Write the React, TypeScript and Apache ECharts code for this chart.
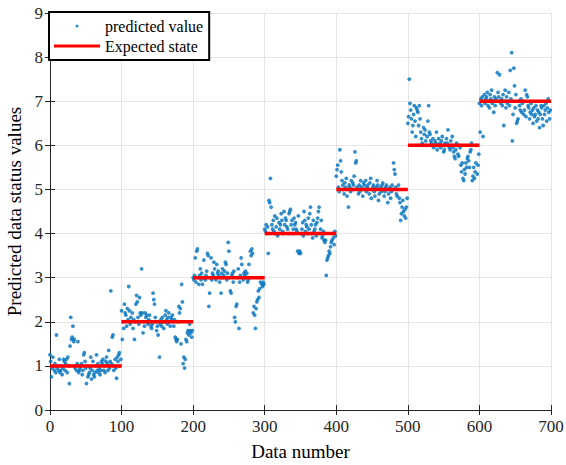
import React, { useEffect, useRef } from "react";
import * as echarts from "echarts";

const seg1 = [
  1.25,1.1,0.75,0.95,1.2,1.0,0.9,1.05,0.85,1.7,
  0.95,1.0,0.9,1.15,0.85,0.9,1.0,0.8,0.95,1.15,
  1.1,0.9,1.05,1.15,0.85,1.2,1.0,0.6,1.45,2.1,
  1.6,1.65,1.9,1.55,1.6,0.95,1.0,0.9,1.05,1.55,
  0.85,0.9,0.95,1.0,1.05,0.8,0.9,1.25,1.3,1.1,
  0.95,0.6,1.0,0.75,0.8,0.85,0.95,1.2,0.7,0.9,
  1.1,0.8,0.75,0.85,1.0,1.25,0.9,1.05,0.85,0.95,
  0.8,0.9,1.1,1.05,1.15,0.9,1.0,0.85,1.1,1.2,
  1.05,0.9,1.35,0.95,1.1,2.7,1.05,1.65,1.7,0.9,
  1.0,1.15,0.95,0.72,1.2,1.1,1.25,1.3,1.0,1.15,
];
const seg2 = [
  2.25,1.6,2.0,1.85,2.4,2.2,2.15,1.9,2.3,2.05,
  2.8,2.25,1.95,2.1,2.0,2.2,1.85,2.05,1.6,2.0,
  2.4,2.6,2.45,2.1,1.95,2.55,2.2,2.15,3.2,2.2,
  1.75,2.0,1.9,2.2,2.1,2.15,2.0,1.95,2.05,2.15,
  2.0,1.9,1.85,1.95,2.65,2.5,2.4,2.1,2.0,1.8,
  1.9,1.7,2.0,1.2,1.95,2.05,1.9,2.1,2.0,1.85,
  2.0,2.15,2.25,2.05,1.95,2.1,2.2,2.0,1.9,2.1,
  2.05,2.15,2.0,1.9,2.05,1.65,1.6,1.55,1.6,2.0,
  2.35,2.2,2.3,1.5,2.85,2.45,1.05,1.2,0.95,1.15,
  1.6,1.55,1.75,1.8,1.7,1.95,1.8,1.75,1.65,1.8,
];
const seg3 = [
  3.0,2.95,3.05,3.45,2.9,3.6,3.65,3.0,2.85,3.05,
  3.2,2.95,3.1,2.85,3.0,3.4,3.0,2.95,3.05,3.15,
  3.55,3.5,2.35,2.65,3.0,3.45,2.95,3.1,3.05,3.35,
  3.2,3.0,2.95,3.3,3.1,3.15,3.05,2.9,3.0,2.65,
  3.1,3.2,3.0,3.05,3.15,3.35,3.3,2.95,3.1,3.8,
  3.6,3.0,2.7,2.65,3.05,3.1,2.9,3.15,2.1,2.0,
  2.35,2.4,3.0,3.2,1.85,2.9,3.05,3.45,3.3,3.0,
  2.95,3.1,3.05,3.15,3.0,3.1,2.9,2.95,3.3,3.0,
  3.6,3.5,3.65,3.55,2.2,2.35,2.15,1.85,2.3,2.45,
  2.5,2.7,2.55,2.75,2.9,3.0,2.85,2.8,2.9,2.85,
];
const seg4 = [
  4.1,4.05,4.2,4.0,4.15,3.55,4.75,4.7,5.25,4.6,
  4.2,4.1,4.3,4.05,4.4,4.0,4.15,4.35,3.95,4.0,
  4.25,4.1,4.2,4.45,4.3,4.05,4.0,4.5,4.2,4.35,
  4.3,4.15,4.1,4.0,4.45,4.5,4.55,4.2,4.3,4.0,
  4.1,4.35,4.2,4.25,4.1,4.05,3.6,4.4,3.55,3.6,
  3.55,4.0,4.1,4.25,3.95,4.5,4.3,4.05,4.2,4.15,
  4.0,4.35,4.1,4.45,4.6,4.2,4.0,3.9,4.3,4.05,
  4.1,4.2,3.95,4.25,4.35,4.5,4.6,4.0,4.1,4.3,
  3.9,3.95,4.05,3.85,3.8,3.85,3.05,3.4,3.45,3.5,
  3.6,3.55,3.7,3.8,3.85,4.0,3.9,3.75,4.05,3.95,
];
const seg5 = [
  5.3,5.45,5.55,5.05,4.95,5.9,5.65,5.4,5.2,5.1,
  5.0,4.9,5.15,5.05,5.25,4.85,5.0,4.6,5.1,5.05,
  4.95,5.2,5.0,5.15,5.1,5.3,5.85,5.6,5.65,5.05,
  5.0,4.9,5.1,4.95,5.2,5.05,5.0,4.85,5.15,5.1,
  5.0,5.2,4.95,5.05,5.1,5.0,4.9,5.15,5.25,4.8,
  5.0,5.05,5.1,4.95,4.85,5.0,5.05,5.2,5.1,4.75,
  4.9,5.0,5.05,4.95,5.1,5.15,5.0,4.85,4.95,5.05,
  5.1,5.0,4.7,4.9,5.0,5.05,4.8,4.95,5.1,5.0,
  5.6,5.45,5.35,5.05,4.9,4.85,5.0,5.1,4.8,4.7,
  4.3,4.45,4.6,4.75,4.5,4.4,4.55,4.35,4.6,4.8,
];
const seg6 = [
  6.5,6.65,7.5,6.95,6.8,6.6,6.3,6.45,6.7,6.9,
  6.55,6.2,6.85,6.8,6.75,6.45,6.9,6.6,6.3,6.15,
  6.05,6.0,6.4,6.25,6.35,6.1,6.0,6.2,6.55,6.9,
  6.3,6.25,6.1,6.05,6.0,6.15,5.95,6.0,6.1,6.05,
  6.3,5.9,6.0,6.15,6.0,6.05,5.95,6.1,6.2,6.0,
  5.85,5.9,6.05,6.0,6.15,6.05,6.35,6.0,5.95,5.9,
  6.1,6.0,6.2,5.95,5.85,5.75,5.7,5.9,6.05,6.0,
  5.8,5.75,6.0,5.95,5.55,5.4,5.6,5.25,5.2,5.45,
  5.35,5.6,5.5,5.7,5.75,5.65,5.5,5.85,5.9,6.05,
  5.2,5.3,5.5,5.25,5.4,5.6,6.0,5.35,5.55,5.8,
];
const seg7 = [
  6.95,6.3,7.05,6.9,7.1,6.2,7.0,7.15,6.95,7.05,
  7.1,7.2,6.9,7.0,6.85,7.15,7.05,7.25,6.95,7.0,
  6.75,7.1,6.9,7.05,7.0,7.65,7.2,7.1,7.6,7.0,
  6.95,7.05,6.9,7.15,6.45,7.0,7.25,6.85,7.1,6.95,
  7.0,7.2,6.9,7.7,7.05,8.1,6.1,6.7,7.75,7.35,
  6.85,7.15,6.5,6.55,6.6,7.0,6.9,6.8,7.05,6.75,
  6.95,7.0,6.7,6.8,7.25,6.65,7.15,7.1,6.9,6.85,
  6.6,6.75,6.95,6.7,6.8,6.5,6.85,6.65,6.7,6.9,
  6.55,6.8,6.6,6.75,6.4,6.7,6.9,6.85,6.6,6.45,
  6.9,6.7,6.8,6.95,6.55,6.85,7.05,6.75,6.6,6.8,
];
const segments = [seg1, seg2, seg3, seg4, seg5, seg6, seg7];
const expectedLevels = [1, 2, 3, 4, 5, 6, 7];
const segmentBounds = [0, 100, 200, 300, 400, 500, 600, 700];
const xTicks = [0, 100, 200, 300, 400, 500, 600, 700];
const yTicks = [0, 1, 2, 3, 4, 5, 6, 7, 8, 9];

const FONT = "Liberation Serif";

export default function App() {
  const ref = useRef<HTMLDivElement>(null);
  useEffect(() => {
    if (!ref.current) return;
    const chart = echarts.init(ref.current, undefined, { renderer: "svg" });
    const predicted: number[][] = [];
    segments.forEach((seg, s) => {
      seg.forEach((v, i) => predicted.push([segmentBounds[s] + i, v]));
    });
    const expected: any[] = [];
    expectedLevels.forEach((lv, s) => {
      expected.push([segmentBounds[s], lv]);
      expected.push([segmentBounds[s + 1], lv]);
      expected.push([segmentBounds[s + 1], "-"]);
    });
    const axisLineColor = "#262626";
    chart.setOption({
      animation: false,
      backgroundColor: "#fff",
      textStyle: { fontFamily: FONT },
      grid: {
        left: 50,
        right: 15,
        top: 13,
        bottom: 55,
        containLabel: false,
        outerBoundsMode: "none",
      },
      legend: {
        left: 49,
        top: 12,
        orient: "vertical",
        backgroundColor: "#fff",
        borderColor: "#000",
        borderWidth: 2,
        borderRadius: 0,
        padding: [6, 6, 6, 5],
        itemGap: 4,
        itemWidth: 46,
        itemHeight: 16,
        itemTextGap: 4,
        textStyle: { fontFamily: FONT, fontSize: 16, color: "#000" },
        data: [
          {
            name: "predicted value",
            icon: "path://M0,0M46,16M21.4,8a1.6,1.6 0 1,0 3.2,0a1.6,1.6 0 1,0 -3.2,0z",
            itemStyle: { color: "#0072BD" },
          },
          {
            name: "Expected state",
            icon: "path://M0,0M46,16M0,6.4L46,6.4L46,9.6L0,9.6Z",
            itemStyle: { color: "#ff0000" },
          },
        ],
      },
      xAxis: [
        {
          type: "value",
          min: 0,
          max: 700,
          interval: 100,
          name: "Data number",
          nameLocation: "middle",
          nameGap: 32,
          nameTextStyle: { fontFamily: FONT, fontSize: 19, color: "#000" },
          axisLine: { show: true, lineStyle: { color: axisLineColor, width: 1 } },
          axisTick: { show: true, inside: true, length: 5, lineStyle: { color: axisLineColor } },
          axisLabel: {
            fontFamily: FONT,
            fontSize: 17,
            color: "#262626",
            margin: 8,
            formatter: (v: number) => (xTicks.includes(v) ? String(v) : ""),
          },
          splitLine: { show: true, lineStyle: { color: "#e5e5e5", width: 1 } },
        },
        {
          type: "value",
          position: "top",
          min: 0,
          max: 700,
          interval: 100,
          axisLine: { show: true, lineStyle: { color: axisLineColor, width: 1 } },
          axisTick: { show: true, inside: true, length: 5, lineStyle: { color: axisLineColor } },
          axisLabel: { show: false },
          splitLine: { show: false },
        },
      ],
      yAxis: [
        {
          type: "value",
          min: 0,
          max: 9,
          interval: 1,
          name: "Predicted data status values",
          nameLocation: "middle",
          nameGap: 22,
          nameTextStyle: { fontFamily: FONT, fontSize: 19, color: "#000" },
          axisLine: { show: true, lineStyle: { color: axisLineColor, width: 1 } },
          axisTick: { show: true, inside: true, length: 5, lineStyle: { color: axisLineColor } },
          axisLabel: {
            fontFamily: FONT,
            fontSize: 17,
            color: "#262626",
            margin: 7,
            formatter: (v: number) => (yTicks.includes(v) ? String(v) : ""),
          },
          splitLine: { show: true, lineStyle: { color: "#e5e5e5", width: 1 } },
        },
        {
          type: "value",
          position: "right",
          min: 0,
          max: 9,
          interval: 1,
          axisLine: { show: true, lineStyle: { color: axisLineColor, width: 1 } },
          axisTick: { show: true, inside: true, length: 5, lineStyle: { color: axisLineColor } },
          axisLabel: { show: false },
          splitLine: { show: false },
        },
      ],
      series: [
        {
          name: "predicted value",
          type: "scatter",
          data: predicted,
          symbol: "circle",
          symbolSize: 3.8,
          itemStyle: { color: "#0072BD" },
          z: 2,
        },
        {
          name: "Expected state",
          type: "line",
          data: expected,
          showSymbol: false,
          symbol: "none",
          connectNulls: false,
          lineStyle: { color: "#ff0000", width: 3.5 },
          itemStyle: { color: "#ff0000" },
          z: 3,
        },
      ],
    });
    return () => chart.dispose();
  }, []);
  return (
    <div
      ref={ref}
      style={{ position: "fixed", left: 0, top: 0, width: 566, height: 465 }}
    />
  );
}
